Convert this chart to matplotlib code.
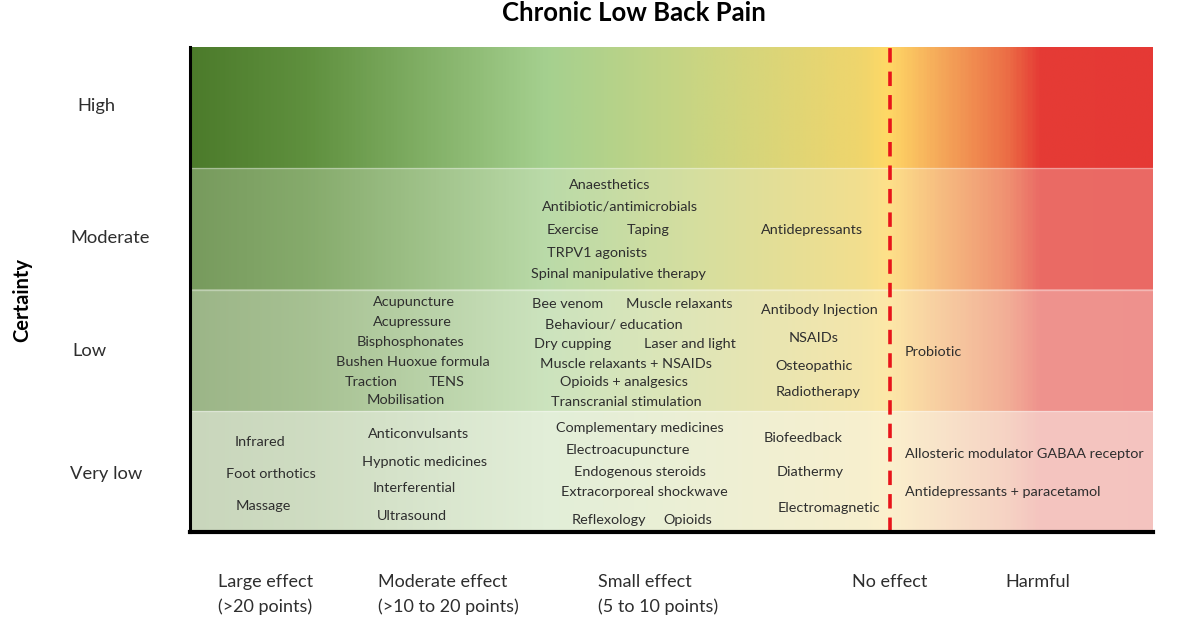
import numpy as np
import matplotlib
matplotlib.use("Agg")
import matplotlib.pyplot as plt
from matplotlib.colors import LinearSegmentedColormap

plt.rcParams['font.family'] = ['Lato', 'DejaVu Sans']

# Certainty rows (bottom to top) and how much each one is washed out.
certainty = ["Very low", "Low", "Moderate", "High"]
wash = [0.72, 0.46, 0.25, 0.0]

# Effect columns along the bottom.
effect_labels = ["Large effect\n(>20 points)", "Moderate effect\n(>10 to 20 points)",
                 "Small effect\n(5 to 10 points)", "No effect", "Harmful"]

# Green -> yellow -> red gradient stops (axes fraction, colour).
grad_pos = [0.0, 0.12, 0.37, 0.52, 0.70, 0.725, 0.78, 0.85, 0.885, 1.0]
grad_col = ["#4c7b2b", "#5f903e", "#a5d08f", "#c8d583", "#f0d56c",
            "#ffd966", "#f5a95a", "#ec6e46", "#e53b35", "#e53935"]

# Treatments (text, x px, y px, alignment).
treatments = [
    # Moderate certainty
    ("Anaesthetics", 610, 183, "center"),
    ("Antibiotic/antimicrobials", 620, 205, "center"),
    ("Exercise", 573, 229, "center"),
    ("Taping", 648, 228, "center"),
    ("TRPV1 agonists", 597, 251, "center"),
    ("Spinal manipulative therapy", 618, 272, "center"),
    ("Antidepressants", 812, 229, "center"),
    # Low certainty
    ("Acupuncture", 414, 301, "center"),
    ("Acupressure", 412, 321, "center"),
    ("Bisphosphonates", 410, 341, "center"),
    ("Bushen Huoxue formula", 413, 361, "center"),
    ("Traction", 371, 381, "center"),
    ("TENS", 447, 381, "center"),
    ("Mobilisation", 406, 399, "center"),
    ("Bee venom", 568, 302, "center"),
    ("Muscle relaxants", 679, 302, "center"),
    ("Behaviour/ education", 614, 323, "center"),
    ("Dry cupping", 573, 343, "center"),
    ("Laser and light", 690, 343, "center"),
    ("Muscle relaxants + NSAIDs", 626, 363, "center"),
    ("Opioids + analgesics", 624, 381, "center"),
    ("Transcranial stimulation", 626, 400, "center"),
    ("Antibody Injection", 819, 309, "center"),
    ("NSAIDs", 814, 337, "center"),
    ("Osteopathic", 814, 365, "center"),
    ("Radiotherapy", 818, 391, "center"),
    ("Probiotic", 905, 350, "left"),
    # Very low certainty
    ("Infrared", 260, 440, "center"),
    ("Foot orthotics", 271, 473, "center"),
    ("Massage", 263, 505, "center"),
    ("Anticonvulsants", 419, 433, "center"),
    ("Hypnotic medicines", 425, 460, "center"),
    ("Interferential", 414, 487, "center"),
    ("Ultrasound", 412, 514, "center"),
    ("Complementary medicines", 640, 426, "center"),
    ("Electroacupuncture", 628, 449, "center"),
    ("Endogenous steroids", 640, 470, "center"),
    ("Extracorporeal shockwave", 644, 491, "center"),
    ("Reflexology", 609, 518, "center"),
    ("Opioids", 688, 518, "center"),
    ("Biofeedback", 803, 436, "center"),
    ("Diathermy", 810, 470, "center"),
    ("Electromagnetic", 829, 507, "center"),
    ("Allosteric modulator GABAA receptor", 905, 452, "left"),
    ("Antidepressants + paracetamol", 905, 491, "left"),
]

W, H = 1200, 628
fig = plt.figure(figsize=(12, 6.28), dpi=100)
ax = fig.add_axes([190 / W, 1 - 532 / H, (1153 - 190) / W, (532 - 47) / H])


def fx(px):
    return px / W


def fy(py):
    return 1 - py / H


cmap = LinearSegmentedColormap.from_list("eff", list(zip(grad_pos, grad_col)))
xs = np.linspace(0, 1, 600)
base = cmap(xs)[:, :3]
veil = np.array([0.98, 0.98, 0.96])  # slightly warm white wash
for i, a in enumerate(wash):
    row = base * (1 - a) + veil * a
    ax.imshow(row[np.newaxis, :, :], extent=[0, 1, i, i + 1], aspect="auto",
              interpolation="bilinear")
    if i > 0:
        ax.axhline(i, color="white", alpha=0.35, lw=1)

ax.set_xlim(0, 1)
ax.set_ylim(0, 4)
ax.set_xticks([])
ax.set_yticks([])
for s in ["top", "right"]:
    ax.spines[s].set_visible(False)
ax.spines["left"].set_linewidth(2.2)
ax.spines["bottom"].set_linewidth(3)

# no-effect line
ax.axvline((890 - 190) / (1153 - 190), color="#e8141a", lw=2.6,
           linestyle=(0, (4, 2.5)))

txt_col = "#2e2e2e"
for name, x, y, ha in treatments:
    fig.text(fx(x), fy(y + 1.5), name, ha=ha, va="center", fontsize=10.4, color=txt_col)

# certainty labels
row_label_pos = [(70, 474), (72, 351), (70, 238), (77, 106)]
for lab, (x, y) in zip(certainty, row_label_pos):
    fig.text(fx(x), fy(y), lab, ha="left", va="center", fontsize=13.2, color=txt_col)
fig.text(fx(22), fy(300), "Certainty", rotation=90, ha="center", va="center",
         fontsize=14.5, fontweight="bold", color="black")

# effect labels
eff_pos = [218, 378, 598, 852, 1005]
for lab, x in zip(effect_labels, eff_pos):
    fig.text(fx(x), fy(574), lab, ha="left", va="top", fontsize=13,
             color=txt_col, linespacing=1.6)

fig.text(fx(634), fy(13), "Chronic Low Back Pain", ha="center", va="center",
         fontsize=18.5, fontweight="bold", color="black")

fig.savefig("out.png", dpi=100)
